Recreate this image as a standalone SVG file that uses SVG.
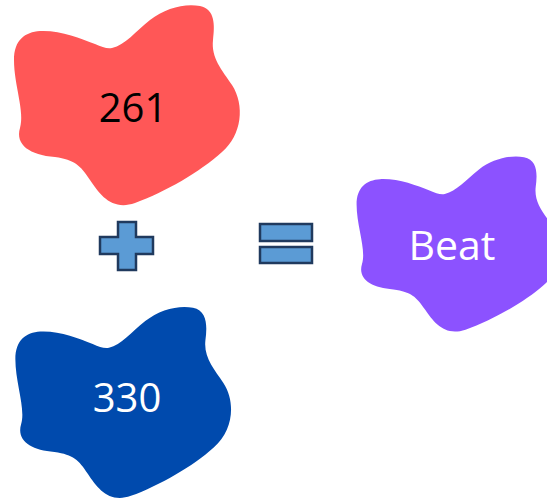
<svg xmlns="http://www.w3.org/2000/svg" width="547" height="500" viewBox="0 0 547 500">
<style>
.lbl{font-family:"Open Sans","Liberation Sans",sans-serif;font-size:40px;text-anchor:middle}
.op{fill:#5b9bd5;stroke:#203a5e;stroke-width:2.5;stroke-linejoin:miter}
</style>
<defs>
<path id="blob" d="M 112 48 C 125 45, 135 32, 150 20 C 165 8, 185 3, 200 6 C 215 9, 215 25, 213 40 C 211 58, 222 70, 232 85 C 245 105, 242 135, 222 152 C 200 172, 165 192, 135 203 C 112 211, 100 195, 90 180 C 80 165, 75 160, 55 157 C 30 155, 15 145, 20 128 C 25 112, 14 85, 14 60 C 14 40, 25 32, 40 31 C 60 30, 80 38, 95 44 C 102 47, 107 49, 112 48 Z"/>
</defs>
<rect width="547" height="500" fill="#ffffff"/>
<g id="node-261">
<use href="#blob" fill="#ff5757"/>
<text class="lbl" x="133" y="122" fill="#000000">261</text>
</g>
<g id="node-330">
<use href="#blob" fill="#004aad" transform="translate(2,302) scale(0.955)"/>
<text class="lbl" x="127" y="412" fill="#ffffff">330</text>
</g>
<g id="node-beat">
<use href="#blob" fill="#8c52ff" transform="translate(344,152) scale(0.9,0.875)"/>
<text class="lbl" x="452" y="260" fill="#ffffff" style="font-size:41px">Beat</text>
</g>
<g id="connectors">
<path class="op" d="M118 222 H136 V237 H153 V254 H136 V270 H118 V254 H100 V237 H118 Z"/>
<rect class="op" x="260" y="224" width="52" height="17"/>
<rect class="op" x="260" y="247" width="52" height="16"/>
</g>
</svg>
